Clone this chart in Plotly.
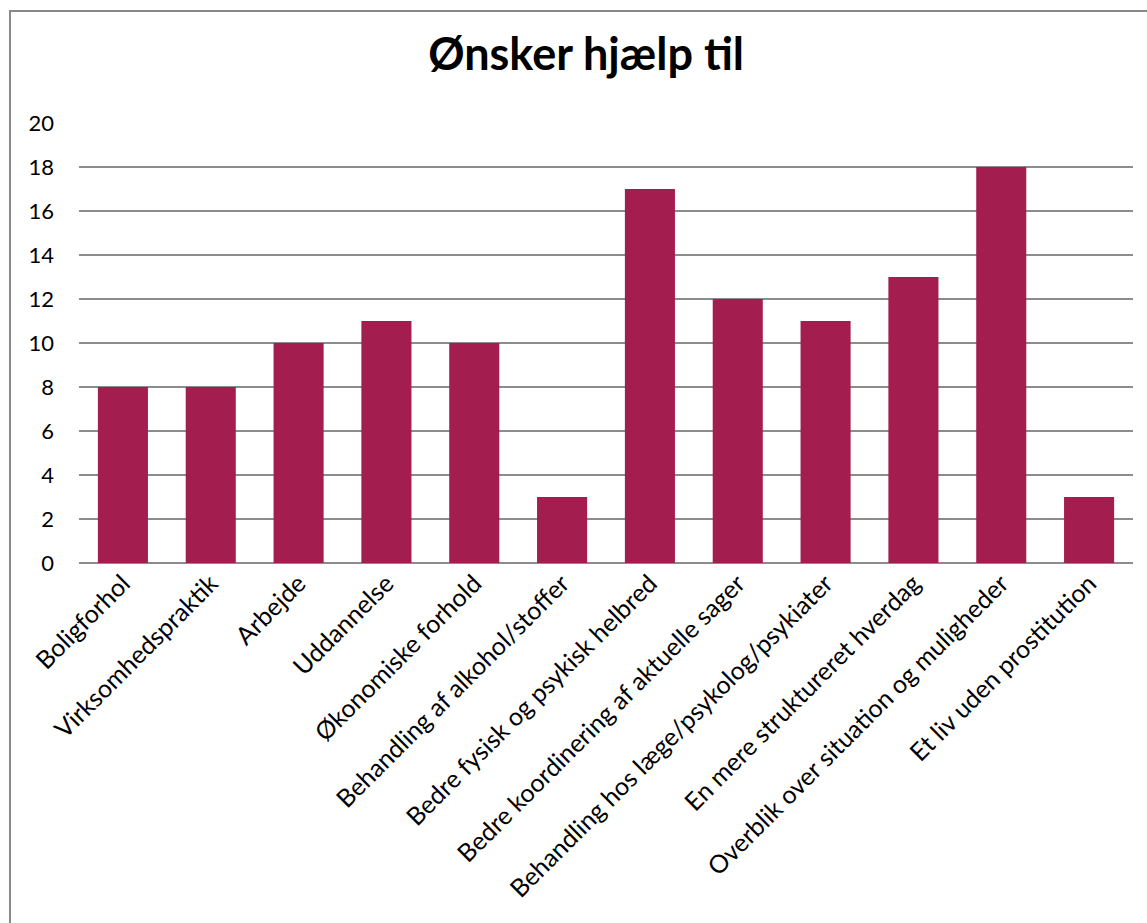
import plotly.graph_objects as go

categories = [
    "Boligforhol",
    "Virksomhedspraktik",
    "Arbejde",
    "Uddannelse",
    "Økonomiske forhold",
    "Behandling af alkohol/stoffer",
    "Bedre fysisk og psykisk helbred",
    "Bedre koordinering af aktuelle sager",
    "Behandling hos læge/psykolog/psykiater",
    "En mere struktureret hverdag",
    "Overblik over situation og muligheder",
    "Et liv uden prostitution",
]
values = [8, 8, 10, 11, 10, 3, 17, 12, 11, 13, 18, 3]
y_ticks = list(range(0, 21, 2))

W, H = 1147, 923
L, R, T, B = 79, 14, 123, 360
pw, ph = W - L - R, H - T - B

def px_x(p):
    return (p - L) / pw

def px_y(p):
    return (H - B - p) / ph

fig = go.Figure(go.Bar(
    x=categories, y=values,
    marker=dict(color="#A31D4E", line=dict(width=0)),
    width=0.57,
))

fig.update_layout(
    width=W, height=H,
    margin=dict(l=L, r=R, t=T, b=B),
    paper_bgcolor="white", plot_bgcolor="white",
    font=dict(family="Lato, Carlito, Calibri, sans-serif", size=24, color="black"),
    title=dict(text="<b>Ønsker hjælp til</b>", x=0.511, xref="container", xanchor="center",
               y=1 - 54 / H, yref="container", yanchor="middle",
               font=dict(size=45, color="black")),
    showlegend=False,
    bargap=0.43,
)
fig.update_xaxes(tickangle=-45, showgrid=False, showline=False, ticks="",
                 tickfont=dict(size=25))
fig.update_yaxes(range=[0, 20], tickvals=y_ticks, showgrid=True, gridcolor="#8C8C8C",
                 gridwidth=1.5, zeroline=True, zerolinecolor="#8C8C8C", zerolinewidth=1.5,
                 showline=False, ticks="", ticklabelstandoff=24, tickfont=dict(size=22))

# chart frame
fig.add_shape(type="rect", xref="paper", yref="paper",
              x0=px_x(10), x1=px_x(1160), y0=px_y(940), y1=px_y(11),
              line=dict(color="#898989", width=2), fillcolor="rgba(0,0,0,0)", layer="below")

fig.write_html("out.html")
